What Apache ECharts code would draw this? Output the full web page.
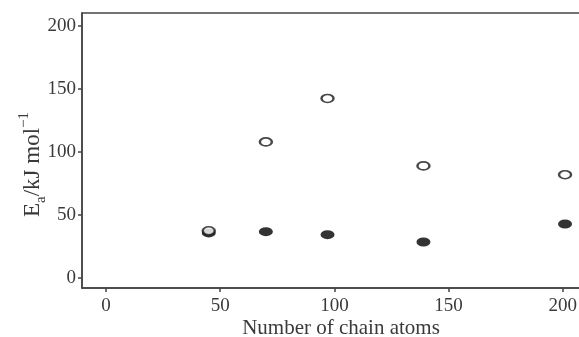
<!DOCTYPE html>
<html>
<head>
<meta charset="utf-8">
<script src="https://cdn.jsdelivr.net/npm/echarts@6/dist/echarts.min.js"></script>
<style>
  html, body { margin: 0; padding: 0; background: #fff; overflow: hidden; }
  #chart { width: 600px; height: 337px; }
</style>
</head>
<body>
<div id="chart"></div>
<script>
// chain atoms on the x axis
const chainAtoms = [45, 70, 97, 139, 201]
// open markers (upper set) and filled markers (lower set), kJ/mol
const openEa = [37.5, 108, 142.5, 89, 82]
const filledEa = [35.8, 36.8, 34.4, 28.6, 42.9]
const xTicks = [0, 50, 100, 150, 200]
const yTicks = [0, 50, 100, 150, 200]

const ink = '#3a3a3a'
const font = 'Liberation Serif'

const chart = echarts.init(document.getElementById('chart'))

chart.setOption({
  animation: false,
  grid: {
    left: 82,
    top: 13,
    right: 0,
    bottom: 49,
    outerBoundsMode: 'none',
    containLabel: false,
    show: true,
    borderColor: '#444',
    borderWidth: 1.5,
  },
  xAxis: {
    type: 'value',
    min: -10.5,
    max: 216.3,
    name: 'Number of chain atoms',
    nameLocation: 'middle',
    nameGap: 30,
    nameMoveOverlap: false,
    nameTextStyle: { fontFamily: font, fontSize: 21, color: ink },
    axisLine: { show: true, onZero: false, lineStyle: { color: '#444', width: 1.5 } },
    axisTick: { show: true, length: 4, customValues: xTicks, lineStyle: { color: '#444', width: 1.5 } },
    axisLabel: { customValues: xTicks, margin: 9, fontFamily: font, fontSize: 19, color: ink },
    splitLine: { show: false },
  },
  yAxis: {
    type: 'value',
    min: -7.9,
    max: 210.3,
    name: 'E{sub|a}/kJ mol{sup|−1}',
    nameLocation: 'middle',
    nameGap: 33,
    nameMoveOverlap: false,
    nameTextStyle: {
      fontFamily: font, fontSize: 23, color: ink,
      padding: [0, 28, 0, 0],
      rich: {
        sub: { fontFamily: font, fontSize: 15, color: ink, verticalAlign: 'bottom', lineHeight: 8 },
        sup: { fontFamily: font, fontSize: 15, color: ink, verticalAlign: 'top', lineHeight: 32 },
      },
    },
    axisLine: { show: true, onZero: false, lineStyle: { color: '#444', width: 1.5 } },
    axisTick: { show: true, length: 4, customValues: yTicks, lineStyle: { color: '#444', width: 1.5 } },
    axisLabel: { customValues: yTicks, margin: 6, fontFamily: font, fontSize: 19, color: ink },
    splitLine: { show: false },
  },
  series: [
    {
      type: 'scatter',
      data: chainAtoms.map((x, i) => [x, filledEa[i]]),
      symbol: 'circle',
      symbolSize: [14, 9],
      itemStyle: { color: '#000' },
    },
    {
      type: 'scatter',
      data: chainAtoms.map((x, i) => [x, openEa[i]]),
      symbol: 'circle',
      symbolSize: [12, 8],
      itemStyle: { color: '#fff', borderColor: '#1a1a1a', borderWidth: 2 },
    },
  ],
})
</script>
</body>
</html>
